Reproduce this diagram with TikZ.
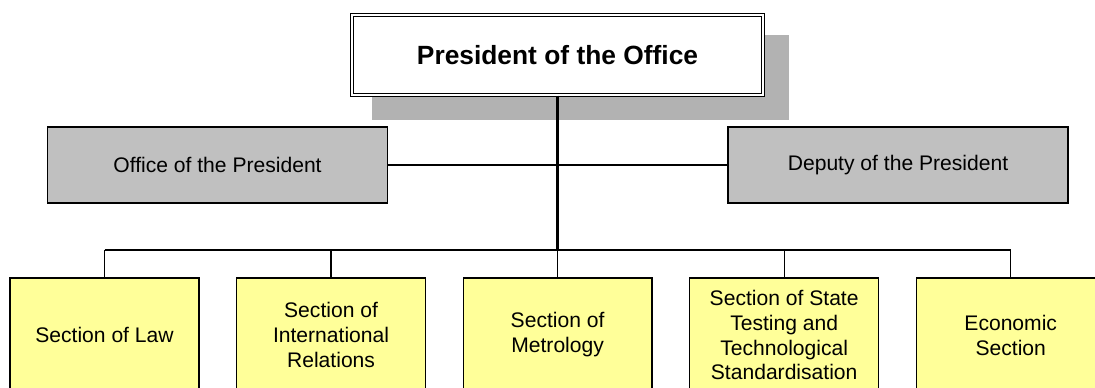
\documentclass[tikz,border=0pt]{standalone}
\usepackage{fontspec}
\setmainfont{Liberation Sans}
\usepackage{tikz}
\definecolor{boxgray}{HTML}{C0C0C0}
\definecolor{shadowgray}{HTML}{B2B2B2}
\definecolor{secyellow}{HTML}{FFFF99}

\begin{document}
\begin{tikzpicture}[x=0.02cm, y=-0.02cm, node distance=4.532cm, line width=0.7pt,
	head node/.style={rectangle,draw,double,double distance=1.2pt,line width=0.6pt,fill=white,
		minimum width=8.22cm,minimum height=1.6cm,font=\fontsize{15}{18}\selectfont\bfseries},
	staff node/.style={rectangle,draw,fill=boxgray,minimum width=6.8cm,minimum height=1.52cm,
		font=\fontsize{12}{14.2}\selectfont},
	section node/.style={rectangle,draw,fill=secyellow,minimum width=3.78cm,minimum height=2.28cm,
		align=center,font=\fontsize{12}{14.2}\selectfont}]

	\useasboundingbox (0,0) rectangle (1095,388);
	\fill[shadowgray] (372,35) rectangle (789,120);

	\node[head node] (1) at (557.5,55) {President of the Office};
	\node[staff node] (2) at (217.5,165) {Office of the President};
	\node[staff node] (3) at (898,165) {Deputy of the President};
	\node[section node] (4) at (104.5,335) {Section of Law};
	\node[section node] (5) [right of=4] {Section of\\International\\Relations};
	\node[section node] (6) [right of=5] {Section of\\Metrology};
	\node[section node] (7) [right of=6] {Section of State\\Testing and\\Technological\\Standardisation};
	\node[section node] (8) [right of=7] {Economic\\Section};
	\coordinate (bus) at (557.5,250);

	\path (2) edge (3);
	\draw (4 |- bus) -- (8 |- bus);
	\foreach \n in {4,...,8}
		\draw (\n) -- (\n |- bus);
	\draw[line width=1.4pt] (1) -- (bus);
\end{tikzpicture}
\end{document}
